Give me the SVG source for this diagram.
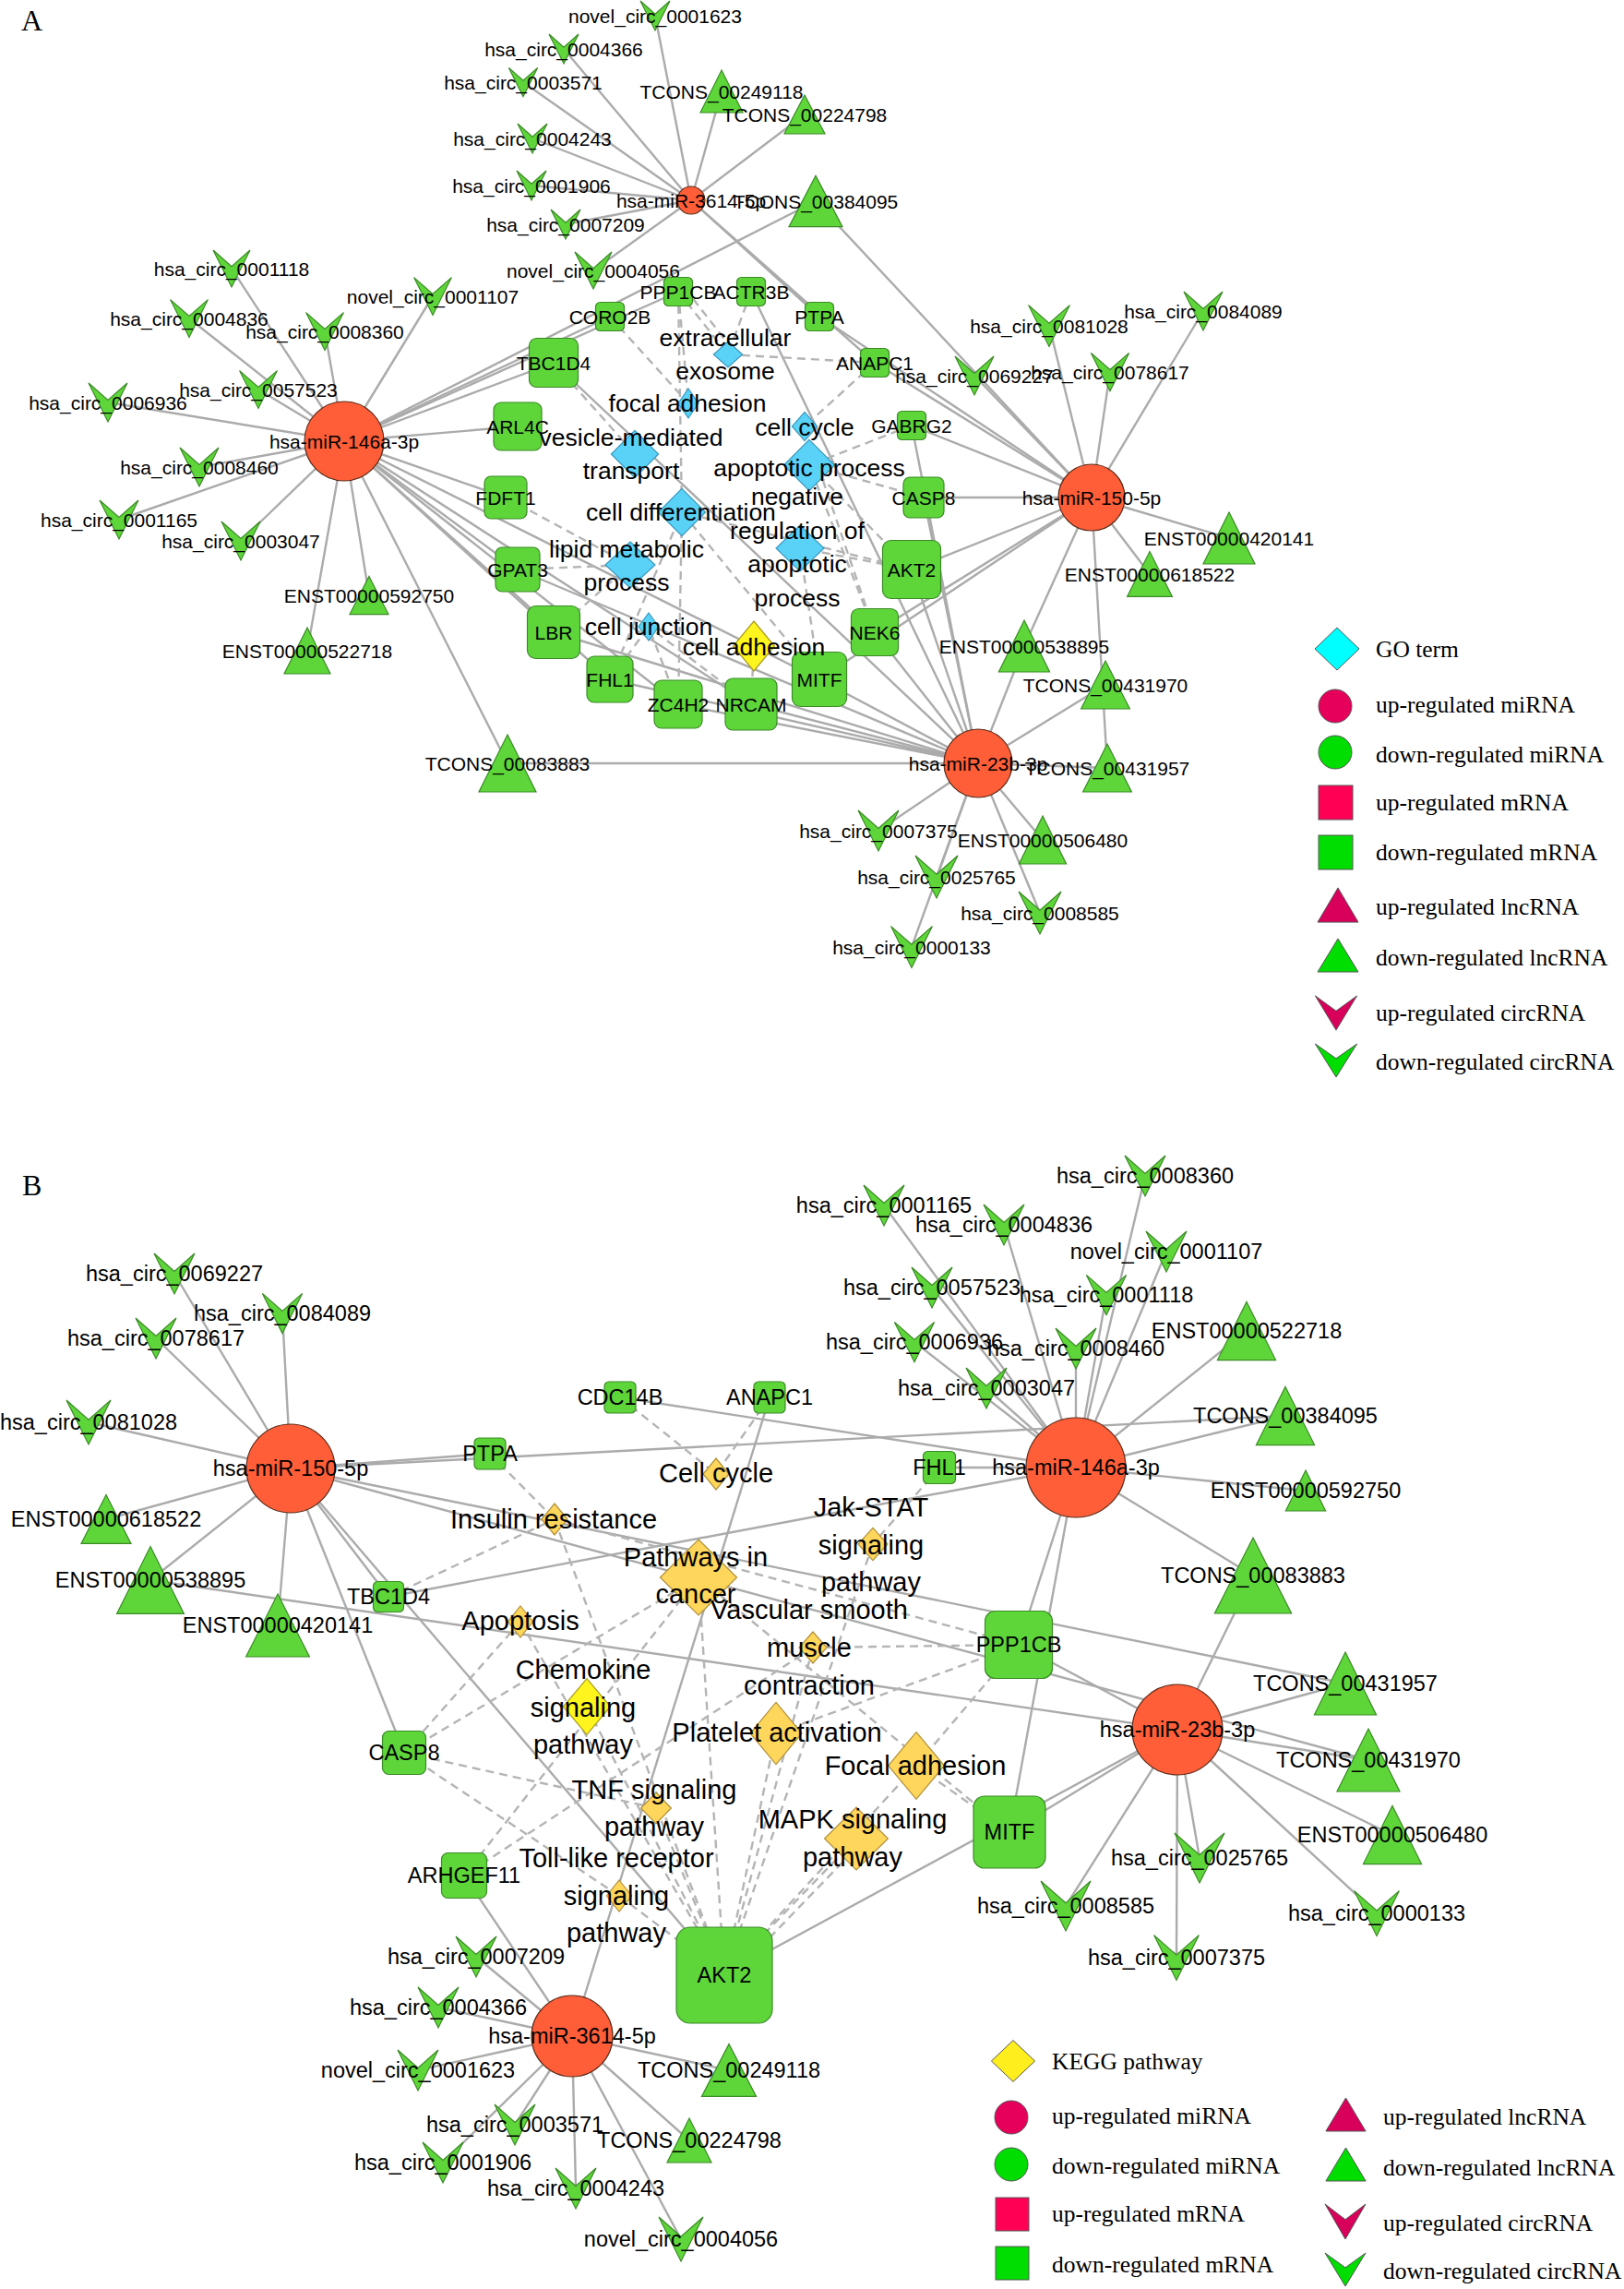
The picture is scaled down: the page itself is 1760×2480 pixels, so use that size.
<svg xmlns="http://www.w3.org/2000/svg" width="1760" height="2480" viewBox="0 0 1760 2480">
<defs>
<style>
.e{stroke:#ababab;stroke-width:2.4;fill:none}
.d{stroke:#b4b4b4;stroke-width:2.4;fill:none;stroke-dasharray:9 6}
.mi{fill:#ff5e38;stroke:#5a2a18;stroke-width:1.2}
.gn{fill:#5ed63a;stroke:#3b8a26;stroke-width:1.2}
.go{fill:#5ad2f8;stroke:#3a98bc;stroke-width:1.2}
.kg{fill:#ffd65c;stroke:#b0903a;stroke-width:1.2}
.ye{fill:#fff51e;stroke:#a89c20;stroke-width:1.2}
.t{font-family:"Liberation Sans",Arial,sans-serif;fill:#000;text-anchor:middle;dominant-baseline:central}
.sa{font-size:21px}
.sb{font-size:23.5px}
.sg{font-size:26.5px}
.sk{font-size:29px}
.lg{font-family:"Liberation Serif","Times New Roman",serif;font-size:25.5px;fill:#000;dominant-baseline:central}
.pl{font-family:"Liberation Serif","Times New Roman",serif;font-size:32px;fill:#000}
.ls{stroke:#555;stroke-width:1}
.up{fill:#e6005c}
.ups{fill:#ff0055}
.upt{fill:#d9005b}
.dn{fill:#00dd00}
</style>
<path id="vee" d="M-20,-20 L0,-2.4 L20,-20 L0,20 Z" vector-effect="non-scaling-stroke"/>
<path id="tri" d="M0,-20 L20,20 L-20,20 Z" vector-effect="non-scaling-stroke"/>
<path id="dia" d="M0,-20 L20,0 L0,20 L-20,0 Z" vector-effect="non-scaling-stroke"/>
</defs>
<rect width="1760" height="2480" fill="#fff"/>
<text class="pl" x="23" y="33">A</text>
<text class="pl" x="24" y="1295">B</text>

<g id="edges-a">
<g class="e">
<line x1="749" y1="217" x2="710" y2="17"/>
<line x1="749" y1="217" x2="611" y2="53"/>
<line x1="749" y1="217" x2="567" y2="89"/>
<line x1="749" y1="217" x2="577" y2="150"/>
<line x1="749" y1="217" x2="576" y2="201"/>
<line x1="749" y1="217" x2="613" y2="243"/>
<line x1="749" y1="217" x2="643" y2="293"/>
<line x1="749" y1="217" x2="782" y2="99"/>
<line x1="749" y1="217" x2="872" y2="124"/>
<line x1="749" y1="217" x2="888" y2="343"/>
<line x1="749" y1="217" x2="948" y2="393"/>
<line x1="373" y1="478" x2="251" y2="291"/>
<line x1="373" y1="478" x2="205" y2="345"/>
<line x1="373" y1="478" x2="352" y2="359"/>
<line x1="373" y1="478" x2="469" y2="321"/>
<line x1="373" y1="478" x2="280" y2="422"/>
<line x1="373" y1="478" x2="117" y2="436"/>
<line x1="373" y1="478" x2="216" y2="506"/>
<line x1="373" y1="478" x2="129" y2="563"/>
<line x1="373" y1="478" x2="261" y2="586"/>
<line x1="373" y1="478" x2="400" y2="645"/>
<line x1="373" y1="478" x2="333" y2="705"/>
<line x1="373" y1="478" x2="550" y2="827"/>
<line x1="373" y1="478" x2="884" y2="218"/>
<line x1="373" y1="478" x2="735" y2="316"/>
<line x1="373" y1="478" x2="661" y2="343"/>
<line x1="373" y1="478" x2="600" y2="393"/>
<line x1="373" y1="478" x2="561" y2="462"/>
<line x1="373" y1="478" x2="548" y2="539"/>
<line x1="373" y1="478" x2="561" y2="617"/>
<line x1="373" y1="478" x2="600" y2="685"/>
<line x1="373" y1="478" x2="661" y2="736"/>
<line x1="373" y1="478" x2="735" y2="763"/>
<line x1="373" y1="478" x2="814" y2="763"/>
<line x1="373" y1="478" x2="888" y2="736"/>
<line x1="1183" y1="539" x2="1137" y2="353"/>
<line x1="1183" y1="539" x2="1304" y2="337"/>
<line x1="1183" y1="539" x2="1203" y2="403"/>
<line x1="1183" y1="539" x2="1056" y2="407"/>
<line x1="1183" y1="539" x2="1332" y2="583"/>
<line x1="1183" y1="539" x2="1246" y2="622"/>
<line x1="1183" y1="539" x2="1110" y2="700"/>
<line x1="1183" y1="539" x2="1200" y2="832"/>
<line x1="1183" y1="539" x2="884" y2="218"/>
<line x1="1183" y1="539" x2="888" y2="343"/>
<line x1="1183" y1="539" x2="948" y2="393"/>
<line x1="1183" y1="539" x2="988" y2="461"/>
<line x1="1183" y1="539" x2="1001" y2="539"/>
<line x1="1183" y1="539" x2="988" y2="617"/>
<line x1="1183" y1="539" x2="948" y2="685"/>
<line x1="1183" y1="539" x2="888" y2="736"/>
<line x1="1060" y1="827" x2="952" y2="900"/>
<line x1="1060" y1="827" x2="1015" y2="950"/>
<line x1="1060" y1="827" x2="988" y2="1026"/>
<line x1="1060" y1="827" x2="1127" y2="989"/>
<line x1="1060" y1="827" x2="1130" y2="910"/>
<line x1="1060" y1="827" x2="1198" y2="742"/>
<line x1="1060" y1="827" x2="1200" y2="832"/>
<line x1="1060" y1="827" x2="1110" y2="700"/>
<line x1="1060" y1="827" x2="550" y2="827"/>
<line x1="1060" y1="827" x2="988" y2="461"/>
<line x1="1060" y1="827" x2="1001" y2="539"/>
<line x1="1060" y1="827" x2="988" y2="617"/>
<line x1="1060" y1="827" x2="948" y2="685"/>
<line x1="1060" y1="827" x2="888" y2="736"/>
<line x1="1060" y1="827" x2="814" y2="763"/>
<line x1="1060" y1="827" x2="735" y2="763"/>
<line x1="1060" y1="827" x2="661" y2="736"/>
<line x1="1060" y1="827" x2="600" y2="685"/>
<line x1="1060" y1="827" x2="561" y2="617"/>
<line x1="1060" y1="827" x2="814" y2="316"/>
<line x1="1060" y1="827" x2="600" y2="393"/>
</g>
<g class="d">
<line x1="735" y1="316" x2="789" y2="384"/>
<line x1="742" y1="312" x2="795" y2="380"/>
<line x1="814" y1="316" x2="789" y2="384"/>
<line x1="789" y1="384" x2="948" y2="393"/>
<line x1="735" y1="316" x2="746" y2="437"/>
<line x1="661" y1="343" x2="746" y2="437"/>
<line x1="735" y1="316" x2="739" y2="555"/>
<line x1="600" y1="393" x2="688" y2="492"/>
<line x1="548" y1="539" x2="683" y2="612"/>
<line x1="561" y1="617" x2="683" y2="612"/>
<line x1="600" y1="685" x2="683" y2="612"/>
<line x1="661" y1="736" x2="703" y2="679"/>
<line x1="661" y1="736" x2="739" y2="555"/>
<line x1="735" y1="763" x2="739" y2="555"/>
<line x1="735" y1="763" x2="703" y2="679"/>
<line x1="814" y1="763" x2="703" y2="679"/>
<line x1="814" y1="763" x2="817" y2="700"/>
<line x1="888" y1="736" x2="739" y2="555"/>
<line x1="888" y1="736" x2="867" y2="594"/>
<line x1="988" y1="617" x2="877" y2="504"/>
<line x1="988" y1="617" x2="867" y2="594"/>
<line x1="988" y1="617" x2="739" y2="555"/>
<line x1="1001" y1="539" x2="877" y2="504"/>
<line x1="948" y1="685" x2="877" y2="504"/>
<line x1="948" y1="685" x2="872" y2="462"/>
<line x1="948" y1="393" x2="872" y2="462"/>
<line x1="988" y1="461" x2="877" y2="504"/>
</g>
</g>

<g id="edges-b">
<g class="e">
<line x1="315" y1="1591" x2="189" y2="1380"/>
<line x1="315" y1="1591" x2="306" y2="1423"/>
<line x1="315" y1="1591" x2="169" y2="1450"/>
<line x1="315" y1="1591" x2="96" y2="1541"/>
<line x1="315" y1="1591" x2="115" y2="1646"/>
<line x1="315" y1="1591" x2="163" y2="1712"/>
<line x1="315" y1="1591" x2="301" y2="1761"/>
<line x1="315" y1="1591" x2="531" y2="1575"/>
<line x1="315" y1="1591" x2="421" y2="1730"/>
<line x1="315" y1="1591" x2="438" y2="1899"/>
<line x1="315" y1="1591" x2="785" y2="2140"/>
<line x1="315" y1="1591" x2="1393" y2="1534"/>
<line x1="315" y1="1591" x2="1458" y2="1824"/>
<line x1="315" y1="1591" x2="1483" y2="1907"/>
<line x1="1166" y1="1590" x2="1241" y2="1274"/>
<line x1="1166" y1="1590" x2="958" y2="1306"/>
<line x1="1166" y1="1590" x2="1088" y2="1327"/>
<line x1="1166" y1="1590" x2="1264" y2="1356"/>
<line x1="1166" y1="1590" x2="1010" y2="1395"/>
<line x1="1166" y1="1590" x2="1199" y2="1403"/>
<line x1="1166" y1="1590" x2="991" y2="1454"/>
<line x1="1166" y1="1590" x2="1166" y2="1461"/>
<line x1="1166" y1="1590" x2="1069" y2="1504"/>
<line x1="1166" y1="1590" x2="1351" y2="1442"/>
<line x1="1166" y1="1590" x2="1393" y2="1534"/>
<line x1="1166" y1="1590" x2="1415" y2="1615"/>
<line x1="1166" y1="1590" x2="1358" y2="1707"/>
<line x1="1166" y1="1590" x2="1018" y2="1590"/>
<line x1="1166" y1="1590" x2="672" y2="1514"/>
<line x1="1166" y1="1590" x2="421" y2="1730"/>
<line x1="1166" y1="1590" x2="1104" y2="1782"/>
<line x1="1166" y1="1590" x2="1094" y2="1985"/>
<line x1="1276" y1="1874" x2="1300" y2="2013"/>
<line x1="1276" y1="1874" x2="1155" y2="2065"/>
<line x1="1276" y1="1874" x2="1275" y2="2121"/>
<line x1="1276" y1="1874" x2="1492" y2="2073"/>
<line x1="1276" y1="1874" x2="1458" y2="1824"/>
<line x1="1276" y1="1874" x2="1483" y2="1907"/>
<line x1="1276" y1="1874" x2="1509" y2="1988"/>
<line x1="1276" y1="1874" x2="1358" y2="1707"/>
<line x1="1276" y1="1874" x2="1104" y2="1782"/>
<line x1="1276" y1="1874" x2="1094" y2="1985"/>
<line x1="1276" y1="1874" x2="785" y2="2140"/>
<line x1="1276" y1="1874" x2="163" y2="1712"/>
<line x1="620" y1="2206" x2="516" y2="2120"/>
<line x1="620" y1="2206" x2="475" y2="2175"/>
<line x1="620" y1="2206" x2="453" y2="2243"/>
<line x1="620" y1="2206" x2="558" y2="2302"/>
<line x1="620" y1="2206" x2="480" y2="2343"/>
<line x1="620" y1="2206" x2="624" y2="2371"/>
<line x1="620" y1="2206" x2="738" y2="2426"/>
<line x1="620" y1="2206" x2="790" y2="2243"/>
<line x1="620" y1="2206" x2="747" y2="2319"/>
<line x1="620" y1="2206" x2="503" y2="2032"/>
<line x1="620" y1="2206" x2="834" y2="1514"/>
</g>
<g class="d">
<line x1="531" y1="1575" x2="601" y2="1646"/>
<line x1="421" y1="1730" x2="601" y2="1646"/>
<line x1="601" y1="1646" x2="785" y2="2140"/>
<line x1="601" y1="1646" x2="1104" y2="1782"/>
<line x1="672" y1="1514" x2="776" y2="1597"/>
<line x1="834" y1="1514" x2="776" y2="1597"/>
<line x1="564" y1="1757" x2="438" y2="1899"/>
<line x1="564" y1="1757" x2="785" y2="2140"/>
<line x1="757" y1="1709" x2="438" y2="1899"/>
<line x1="757" y1="1709" x2="785" y2="2140"/>
<line x1="757" y1="1709" x2="1094" y2="1985"/>
<line x1="757" y1="1709" x2="503" y2="2032"/>
<line x1="636" y1="1849" x2="785" y2="2140"/>
<line x1="711" y1="1959" x2="438" y2="1899"/>
<line x1="711" y1="1959" x2="785" y2="2140"/>
<line x1="671" y1="2054" x2="438" y2="1899"/>
<line x1="671" y1="2054" x2="785" y2="2140"/>
<line x1="946" y1="1673" x2="785" y2="2140"/>
<line x1="1018" y1="1590" x2="946" y2="1673"/>
<line x1="881" y1="1785" x2="1104" y2="1782"/>
<line x1="881" y1="1785" x2="785" y2="2140"/>
<line x1="881" y1="1785" x2="503" y2="2032"/>
<line x1="841" y1="1878" x2="1104" y2="1782"/>
<line x1="841" y1="1878" x2="785" y2="2140"/>
<line x1="993" y1="1913" x2="1104" y2="1782"/>
<line x1="993" y1="1913" x2="785" y2="2140"/>
<line x1="993" y1="1913" x2="1094" y2="1985"/>
<line x1="928" y1="1992" x2="785" y2="2140"/>
<line x1="934" y1="1996" x2="791" y2="2144"/>
</g>
</g>

<g id="nodes-a">
<g id="a-novel_circ_0001623"><use href="#vee" class="gn" transform="translate(710 17) scale(0.8)"/><text class="t sa" x="710" y="17">novel_circ_0001623</text></g>
<g id="a-hsa_circ_0004366"><use href="#vee" class="gn" transform="translate(611 53) scale(0.8)"/><text class="t sa" x="611" y="53">hsa_circ_0004366</text></g>
<g id="a-hsa_circ_0003571"><use href="#vee" class="gn" transform="translate(567 89) scale(0.78)"/><text class="t sa" x="567" y="89">hsa_circ_0003571</text></g>
<g id="a-TCONS_00249118"><use href="#tri" class="gn" transform="translate(782 99) scale(1.15)"/><text class="t sa" x="782" y="99">TCONS_00249118</text></g>
<g id="a-TCONS_00224798"><use href="#tri" class="gn" transform="translate(872 124) scale(1.1 1.05)"/><text class="t sa" x="872" y="124">TCONS_00224798</text></g>
<g id="a-hsa_circ_0004243"><use href="#vee" class="gn" transform="translate(577 150) scale(0.8)"/><text class="t sa" x="577" y="150">hsa_circ_0004243</text></g>
<g id="a-hsa_circ_0001906"><use href="#vee" class="gn" transform="translate(576 201) scale(0.8)"/><text class="t sa" x="576" y="201">hsa_circ_0001906</text></g>
<g id="a-hsa-miR-3614-5p"><circle class="mi" cx="749" cy="217" r="15"/><text class="t sa" x="749" y="217">hsa-miR-3614-5p</text></g>
<g id="a-TCONS_00384095"><use href="#tri" class="gn" transform="translate(884 218) scale(1.45 1.38)"/><text class="t sa" x="884" y="218">TCONS_00384095</text></g>
<g id="a-hsa_circ_0007209"><use href="#vee" class="gn" transform="translate(613 243) scale(0.8)"/><text class="t sa" x="613" y="243">hsa_circ_0007209</text></g>
<g id="a-novel_circ_0004056"><use href="#vee" class="gn" transform="translate(643 293) scale(1)"/><text class="t sa" x="643" y="293">novel_circ_0004056</text></g>
<g id="a-hsa_circ_0001118"><use href="#vee" class="gn" transform="translate(251 291) scale(1)"/><text class="t sa" x="251" y="291">hsa_circ_0001118</text></g>
<g id="a-novel_circ_0001107"><use href="#vee" class="gn" transform="translate(469 321) scale(1.02)"/><text class="t sa" x="469" y="321">novel_circ_0001107</text></g>
<g id="a-hsa_circ_0004836"><use href="#vee" class="gn" transform="translate(205 345) scale(1.02)"/><text class="t sa" x="205" y="345">hsa_circ_0004836</text></g>
<g id="a-hsa_circ_0008360"><use href="#vee" class="gn" transform="translate(352 359) scale(1.02)"/><text class="t sa" x="352" y="359">hsa_circ_0008360</text></g>
<g id="a-hsa_circ_0057523"><use href="#vee" class="gn" transform="translate(280 422) scale(1.02)"/><text class="t sa" x="280" y="422">hsa_circ_0057523</text></g>
<g id="a-hsa_circ_0006936"><use href="#vee" class="gn" transform="translate(117 436) scale(1.05)"/><text class="t sa" x="117" y="436">hsa_circ_0006936</text></g>
<g id="a-hsa-miR-146a-3p"><circle class="mi" cx="373" cy="478" r="43"/><text class="t sa" x="373" y="478">hsa-miR-146a-3p</text></g>
<g id="a-hsa_circ_0008460"><use href="#vee" class="gn" transform="translate(216 506) scale(1.05)"/><text class="t sa" x="216" y="506">hsa_circ_0008460</text></g>
<g id="a-hsa_circ_0001165"><use href="#vee" class="gn" transform="translate(129 563) scale(1.05)"/><text class="t sa" x="129" y="563">hsa_circ_0001165</text></g>
<g id="a-hsa_circ_0003047"><use href="#vee" class="gn" transform="translate(261 586) scale(1.05)"/><text class="t sa" x="261" y="586">hsa_circ_0003047</text></g>
<g id="a-ENST00000592750"><use href="#tri" class="gn" transform="translate(400 645) scale(1.05 1.03)"/><text class="t sa" x="400" y="645">ENST00000592750</text></g>
<g id="a-ENST00000522718"><use href="#tri" class="gn" transform="translate(333 705) scale(1.25)"/><text class="t sa" x="333" y="705">ENST00000522718</text></g>
<g id="a-TCONS_00083883"><use href="#tri" class="gn" transform="translate(550 827) scale(1.55)"/><text class="t sa" x="550" y="827">TCONS_00083883</text></g>
<g id="a-hsa_circ_0081028"><use href="#vee" class="gn" transform="translate(1137 353) scale(1.12)"/><text class="t sa" x="1137" y="353">hsa_circ_0081028</text></g>
<g id="a-hsa_circ_0084089"><use href="#vee" class="gn" transform="translate(1304 337) scale(1.05)"/><text class="t sa" x="1304" y="337">hsa_circ_0084089</text></g>
<g id="a-hsa_circ_0078617"><use href="#vee" class="gn" transform="translate(1203 403) scale(1.03)"/><text class="t sa" x="1203" y="403">hsa_circ_0078617</text></g>
<g id="a-hsa_circ_0069227"><use href="#vee" class="gn" transform="translate(1056 407) scale(1.05)"/><text class="t sa" x="1056" y="407">hsa_circ_0069227</text></g>
<g id="a-hsa-miR-150-5p"><circle class="mi" cx="1183" cy="539" r="36"/><text class="t sa" x="1183" y="539">hsa-miR-150-5p</text></g>
<g id="a-ENST00000420141"><use href="#tri" class="gn" transform="translate(1332 583) scale(1.4)"/><text class="t sa" x="1332" y="583">ENST00000420141</text></g>
<g id="a-ENST00000618522"><use href="#tri" class="gn" transform="translate(1246 622) scale(1.22)"/><text class="t sa" x="1246" y="622">ENST00000618522</text></g>
<g id="a-ENST00000538895"><use href="#tri" class="gn" transform="translate(1110 700) scale(1.38 1.4)"/><text class="t sa" x="1110" y="700">ENST00000538895</text></g>
<g id="a-TCONS_00431970"><use href="#tri" class="gn" transform="translate(1198 742) scale(1.32 1.3)"/><text class="t sa" x="1198" y="742">TCONS_00431970</text></g>
<g id="a-hsa-miR-23b-3p"><circle class="mi" cx="1060" cy="827" r="37"/><text class="t sa" x="1060" y="827">hsa-miR-23b-3p</text></g>
<g id="a-TCONS_00431957"><use href="#tri" class="gn" transform="translate(1200 832) scale(1.32 1.3)"/><text class="t sa" x="1200" y="832">TCONS_00431957</text></g>
<g id="a-hsa_circ_0007375"><use href="#vee" class="gn" transform="translate(952 900) scale(1.1)"/><text class="t sa" x="952" y="900">hsa_circ_0007375</text></g>
<g id="a-ENST00000506480"><use href="#tri" class="gn" transform="translate(1130 910) scale(1.28 1.3)"/><text class="t sa" x="1130" y="910">ENST00000506480</text></g>
<g id="a-hsa_circ_0025765"><use href="#vee" class="gn" transform="translate(1015 950) scale(1.15)"/><text class="t sa" x="1015" y="950">hsa_circ_0025765</text></g>
<g id="a-hsa_circ_0008585"><use href="#vee" class="gn" transform="translate(1127 989) scale(1.15)"/><text class="t sa" x="1127" y="989">hsa_circ_0008585</text></g>
<g id="a-hsa_circ_0000133"><use href="#vee" class="gn" transform="translate(988 1026) scale(1.12)"/><text class="t sa" x="988" y="1026">hsa_circ_0000133</text></g>

<g id="a-PPP1CB"><rect class="gn" x="719.5" y="300.5" width="31" height="31" rx="5"/><text class="t sa" x="735" y="316">PPP1CB</text></g>
<g id="a-ACTR3B"><rect class="gn" x="798.5" y="300.5" width="31" height="31" rx="5"/><text class="t sa" x="814" y="316">ACTR3B</text></g>
<g id="a-CORO2B"><rect class="gn" x="645.5" y="327.5" width="31" height="31" rx="5"/><text class="t sa" x="661" y="343">CORO2B</text></g>
<g id="a-PTPA"><rect class="gn" x="872.5" y="327.5" width="31" height="31" rx="5"/><text class="t sa" x="888" y="343">PTPA</text></g>
<g id="a-TBC1D4"><rect class="gn" x="573.5" y="366.5" width="53" height="53" rx="8"/><text class="t sa" x="600" y="393">TBC1D4</text></g>
<g id="a-ANAPC1"><rect class="gn" x="932.5" y="377.5" width="31" height="31" rx="5"/><text class="t sa" x="948" y="393">ANAPC1</text></g>
<g id="a-ARL4C"><rect class="gn" x="535" y="436" width="52" height="52" rx="8"/><text class="t sa" x="561" y="462">ARL4C</text></g>
<g id="a-GABRG2"><rect class="gn" x="972.5" y="445.5" width="31" height="31" rx="5"/><text class="t sa" x="988" y="461">GABRG2</text></g>
<g id="a-FDFT1"><rect class="gn" x="525" y="516" width="46" height="46" rx="7"/><text class="t sa" x="548" y="539">FDFT1</text></g>
<g id="a-CASP8"><rect class="gn" x="979" y="517" width="44" height="44" rx="7"/><text class="t sa" x="1001" y="539">CASP8</text></g>
<g id="a-GPAT3"><rect class="gn" x="537" y="593" width="48" height="48" rx="7"/><text class="t sa" x="561" y="617">GPAT3</text></g>
<g id="a-AKT2"><rect class="gn" x="956.5" y="585.5" width="63" height="63" rx="9"/><text class="t sa" x="988" y="617">AKT2</text></g>
<g id="a-LBR"><rect class="gn" x="571.5" y="656.5" width="57" height="57" rx="9"/><text class="t sa" x="600" y="685">LBR</text></g>
<g id="a-NEK6"><rect class="gn" x="922.5" y="659.5" width="51" height="51" rx="8"/><text class="t sa" x="948" y="685">NEK6</text></g>
<g id="a-FHL1"><rect class="gn" x="636" y="711" width="50" height="50" rx="8"/><text class="t sa" x="661" y="736">FHL1</text></g>
<g id="a-MITF"><rect class="gn" x="858.5" y="706.5" width="59" height="59" rx="9"/><text class="t sa" x="888" y="736">MITF</text></g>
<g id="a-ZC4H2"><rect class="gn" x="709" y="737" width="52" height="52" rx="8"/><text class="t sa" x="735" y="763">ZC4H2</text></g>
<g id="a-NRCAM"><rect class="gn" x="786" y="735" width="56" height="56" rx="8"/><text class="t sa" x="814" y="763">NRCAM</text></g>

<g id="a-go-extracellular-exosome"><use href="#dia" class="go" transform="translate(789 384) scale(0.78 0.7)"/><text class="t sg" x="786" y="366">extracellular</text><text class="t sg" x="786" y="402">exosome</text></g>
<g id="a-go-focal-adhesion"><use href="#dia" class="go" transform="translate(746 437) scale(0.55 0.8)"/><text class="t sg" x="745" y="437">focal adhesion</text></g>
<g id="a-go-cell-cycle"><use href="#dia" class="go" transform="translate(872 462) scale(0.68 0.78)"/><text class="t sg" x="872" y="463">cell cycle</text></g>
<g id="a-go-vesicle"><use href="#dia" class="go" transform="translate(688 492) scale(1.28)"/><text class="t sg" x="684" y="474">vesicle-mediated</text><text class="t sg" x="684" y="510">transport</text></g>
<g id="a-go-apoptotic"><use href="#dia" class="go" transform="translate(877 504) scale(1.38)"/><text class="t sg" x="877" y="507">apoptotic process</text></g>
<g id="a-go-negreg"><use href="#dia" class="go" transform="translate(867 594) scale(1.3 1.25)"/><text class="t sg" x="864" y="538">negative</text><text class="t sg" x="864" y="575">regulation of</text><text class="t sg" x="864" y="611">apoptotic</text><text class="t sg" x="864" y="648">process</text></g>
<g id="a-go-cell-differentiation"><use href="#dia" class="go" transform="translate(739 555) scale(1.28)"/><text class="t sg" x="738" y="555">cell differentiation</text></g>
<g id="a-go-lipid"><use href="#dia" class="go" transform="translate(683 612) scale(1.35 1.25)"/><text class="t sg" x="679" y="595">lipid metabolic</text><text class="t sg" x="679" y="631">process</text></g>
<g id="a-go-cell-junction"><use href="#dia" class="go" transform="translate(703 679) scale(0.55 0.75)"/><text class="t sg" x="703" y="679">cell junction</text></g>
<g id="a-go-cell-adhesion"><use href="#dia" class="ye" transform="translate(817 700) scale(1.12 1.35)"/><text class="t sg" x="817" y="701">cell adhesion</text></g>
</g>

<g id="legend-a">
<use href="#dia" class="ls" fill="#00ffff" transform="translate(1449 703) scale(1.2 1.15)"/>
<text class="lg" x="1491" y="703">GO term</text>
<circle class="ls up" cx="1447" cy="765" r="18"/>
<text class="lg" x="1491" y="763">up-regulated miRNA</text>
<circle class="ls dn" cx="1447" cy="815" r="18"/>
<text class="lg" x="1491" y="817">down-regulated miRNA</text>
<rect class="ls ups" x="1429" y="851" width="37" height="37"/>
<text class="lg" x="1491" y="869">up-regulated mRNA</text>
<rect class="ls dn" x="1429" y="905" width="37" height="37"/>
<text class="lg" x="1491" y="923">down-regulated mRNA</text>
<use href="#tri" class="ls upt" transform="translate(1450 980.5) scale(1.1 0.93)"/>
<text class="lg" x="1491" y="982">up-regulated lncRNA</text>
<use href="#tri" class="ls dn" transform="translate(1450 1035) scale(1.1 0.9)"/>
<text class="lg" x="1491" y="1037">down-regulated lncRNA</text>
<use href="#vee" class="ls upt" transform="translate(1448 1097.5) scale(1.13 0.93)"/>
<text class="lg" x="1491" y="1097">up-regulated circRNA</text>
<use href="#vee" class="ls dn" transform="translate(1448 1149) scale(1.13 0.9)"/>
<text class="lg" x="1491" y="1150">down-regulated circRNA</text>
</g>

<g id="nodes-b">
<g id="b-hsa_circ_0069227"><use href="#vee" class="gn" transform="translate(189 1380) scale(1.1)"/><text class="t sb" x="189" y="1380">hsa_circ_0069227</text></g>
<g id="b-hsa_circ_0084089"><use href="#vee" class="gn" transform="translate(306 1423) scale(1.08)"/><text class="t sb" x="306" y="1423">hsa_circ_0084089</text></g>
<g id="b-hsa_circ_0078617"><use href="#vee" class="gn" transform="translate(169 1450) scale(1.1)"/><text class="t sb" x="169" y="1450">hsa_circ_0078617</text></g>
<g id="b-hsa_circ_0081028"><use href="#vee" class="gn" transform="translate(96 1541) scale(1.2)"/><text class="t sb" x="96" y="1541">hsa_circ_0081028</text></g>
<g id="b-hsa-miR-150-5p"><circle class="mi" cx="315" cy="1591" r="48"/><text class="t sb" x="315" y="1591">hsa-miR-150-5p</text></g>
<g id="b-ENST00000618522"><use href="#tri" class="gn" transform="translate(115 1646) scale(1.35 1.32)"/><text class="t sb" x="115" y="1646">ENST00000618522</text></g>
<g id="b-ENST00000538895"><use href="#tri" class="gn" transform="translate(163 1712) scale(1.82)"/><text class="t sb" x="163" y="1712">ENST00000538895</text></g>
<g id="b-ENST00000420141"><use href="#tri" class="gn" transform="translate(301 1761) scale(1.72 1.7)"/><text class="t sb" x="301" y="1761">ENST00000420141</text></g>
<g id="b-hsa_circ_0008360"><use href="#vee" class="gn" transform="translate(1241 1274) scale(1.1)"/><text class="t sb" x="1241" y="1274">hsa_circ_0008360</text></g>
<g id="b-hsa_circ_0001165"><use href="#vee" class="gn" transform="translate(958 1306) scale(1.1)"/><text class="t sb" x="958" y="1306">hsa_circ_0001165</text></g>
<g id="b-hsa_circ_0004836"><use href="#vee" class="gn" transform="translate(1088 1327) scale(1.1)"/><text class="t sb" x="1088" y="1327">hsa_circ_0004836</text></g>
<g id="b-novel_circ_0001107"><use href="#vee" class="gn" transform="translate(1264 1356) scale(1.1)"/><text class="t sb" x="1264" y="1356">novel_circ_0001107</text></g>
<g id="b-hsa_circ_0057523"><use href="#vee" class="gn" transform="translate(1010 1395) scale(1.1)"/><text class="t sb" x="1010" y="1395">hsa_circ_0057523</text></g>
<g id="b-hsa_circ_0001118"><use href="#vee" class="gn" transform="translate(1199 1403) scale(1.08)"/><text class="t sb" x="1199" y="1403">hsa_circ_0001118</text></g>
<g id="b-ENST00000522718"><use href="#tri" class="gn" transform="translate(1351 1442) scale(1.58)"/><text class="t sb" x="1351" y="1442">ENST00000522718</text></g>
<g id="b-hsa_circ_0006936"><use href="#vee" class="gn" transform="translate(991 1454) scale(1.08)"/><text class="t sb" x="991" y="1454">hsa_circ_0006936</text></g>
<g id="b-hsa_circ_0008460"><use href="#vee" class="gn" transform="translate(1166 1461) scale(1.1)"/><text class="t sb" x="1166" y="1461">hsa_circ_0008460</text></g>
<g id="b-hsa_circ_0003047"><use href="#vee" class="gn" transform="translate(1069 1504) scale(1.1)"/><text class="t sb" x="1069" y="1504">hsa_circ_0003047</text></g>
<g id="b-TCONS_00384095"><use href="#tri" class="gn" transform="translate(1393 1534) scale(1.58)"/><text class="t sb" x="1393" y="1534">TCONS_00384095</text></g>
<g id="b-hsa-miR-146a-3p"><circle class="mi" cx="1166" cy="1590" r="54"/><text class="t sb" x="1166" y="1590">hsa-miR-146a-3p</text></g>
<g id="b-ENST00000592750"><use href="#tri" class="gn" transform="translate(1415 1615) scale(1.08 1.1)"/><text class="t sb" x="1415" y="1615">ENST00000592750</text></g>
<g id="b-TCONS_00083883"><use href="#tri" class="gn" transform="translate(1358 1707) scale(2.08 2.05)"/><text class="t sb" x="1358" y="1707">TCONS_00083883</text></g>
<g id="b-TCONS_00431957"><use href="#tri" class="gn" transform="translate(1458 1824) scale(1.68 1.7)"/><text class="t sb" x="1458" y="1824">TCONS_00431957</text></g>
<g id="b-hsa-miR-23b-3p"><circle class="mi" cx="1276" cy="1874" r="49"/><text class="t sb" x="1276" y="1874">hsa-miR-23b-3p</text></g>
<g id="b-TCONS_00431970"><use href="#tri" class="gn" transform="translate(1483 1907) scale(1.7)"/><text class="t sb" x="1483" y="1907">TCONS_00431970</text></g>
<g id="b-ENST00000506480"><use href="#tri" class="gn" transform="translate(1509 1988) scale(1.58)"/><text class="t sb" x="1509" y="1988">ENST00000506480</text></g>
<g id="b-hsa_circ_0025765"><use href="#vee" class="gn" transform="translate(1300 2013) scale(1.35)"/><text class="t sb" x="1300" y="2013">hsa_circ_0025765</text></g>
<g id="b-hsa_circ_0008585"><use href="#vee" class="gn" transform="translate(1155 2065) scale(1.35)"/><text class="t sb" x="1155" y="2065">hsa_circ_0008585</text></g>
<g id="b-hsa_circ_0000133"><use href="#vee" class="gn" transform="translate(1492 2073) scale(1.22)"/><text class="t sb" x="1492" y="2073">hsa_circ_0000133</text></g>
<g id="b-hsa_circ_0007375"><use href="#vee" class="gn" transform="translate(1275 2121) scale(1.22)"/><text class="t sb" x="1275" y="2121">hsa_circ_0007375</text></g>
<g id="b-hsa_circ_0007209"><use href="#vee" class="gn" transform="translate(516 2120) scale(1.1)"/><text class="t sb" x="516" y="2120">hsa_circ_0007209</text></g>
<g id="b-hsa_circ_0004366"><use href="#vee" class="gn" transform="translate(475 2175) scale(1.1)"/><text class="t sb" x="475" y="2175">hsa_circ_0004366</text></g>
<g id="b-hsa-miR-3614-5p"><circle class="mi" cx="620" cy="2206" r="44"/><text class="t sb" x="620" y="2206">hsa-miR-3614-5p</text></g>
<g id="b-novel_circ_0001623"><use href="#vee" class="gn" transform="translate(453 2243) scale(1.1)"/><text class="t sb" x="453" y="2243">novel_circ_0001623</text></g>
<g id="b-TCONS_00249118"><use href="#tri" class="gn" transform="translate(790 2243) scale(1.48 1.42)"/><text class="t sb" x="790" y="2243">TCONS_00249118</text></g>
<g id="b-hsa_circ_0003571"><use href="#vee" class="gn" transform="translate(558 2302) scale(1.1)"/><text class="t sb" x="558" y="2302">hsa_circ_0003571</text></g>
<g id="b-TCONS_00224798"><use href="#tri" class="gn" transform="translate(747 2319) scale(1.2)"/><text class="t sb" x="747" y="2319">TCONS_00224798</text></g>
<g id="b-hsa_circ_0001906"><use href="#vee" class="gn" transform="translate(480 2343) scale(1.1)"/><text class="t sb" x="480" y="2343">hsa_circ_0001906</text></g>
<g id="b-hsa_circ_0004243"><use href="#vee" class="gn" transform="translate(624 2371) scale(1.1)"/><text class="t sb" x="624" y="2371">hsa_circ_0004243</text></g>
<g id="b-novel_circ_0004056"><use href="#vee" class="gn" transform="translate(738 2426) scale(1.2)"/><text class="t sb" x="738" y="2426">novel_circ_0004056</text></g>

<g id="b-PTPA"><rect class="gn" x="514" y="1558" width="34" height="34" rx="5"/><text class="t sb" x="531" y="1575">PTPA</text></g>
<g id="b-CDC14B"><rect class="gn" x="655" y="1497" width="34" height="34" rx="5"/><text class="t sb" x="672" y="1514">CDC14B</text></g>
<g id="b-ANAPC1"><rect class="gn" x="817" y="1497" width="34" height="34" rx="5"/><text class="t sb" x="834" y="1514">ANAPC1</text></g>
<g id="b-TBC1D4"><rect class="gn" x="404.5" y="1713.5" width="33" height="33" rx="5"/><text class="t sb" x="421" y="1730">TBC1D4</text></g>
<g id="b-FHL1"><rect class="gn" x="1000.5" y="1572.5" width="35" height="35" rx="5"/><text class="t sb" x="1018" y="1590">FHL1</text></g>
<g id="b-PPP1CB"><rect class="gn" x="1067.5" y="1745.5" width="73" height="73" rx="11"/><text class="t sb" x="1104" y="1782">PPP1CB</text></g>
<g id="b-CASP8"><rect class="gn" x="414.5" y="1875.5" width="47" height="47" rx="7"/><text class="t sb" x="438" y="1899">CASP8</text></g>
<g id="b-MITF"><rect class="gn" x="1055" y="1946" width="78" height="78" rx="12"/><text class="t sb" x="1094" y="1985">MITF</text></g>
<g id="b-ARHGEF11"><rect class="gn" x="478.5" y="2007.5" width="49" height="49" rx="7"/><text class="t sb" x="503" y="2032">ARHGEF11</text></g>
<g id="b-AKT2"><rect class="gn" x="733" y="2088" width="104" height="104" rx="15"/><text class="t sb" x="785" y="2140">AKT2</text></g>

<g id="b-kegg-cell-cycle"><use href="#dia" class="kg" transform="translate(776 1597) scale(0.7 0.85)"/><text class="t sk" x="776" y="1596">Cell cycle</text></g>
<g id="b-kegg-insulin"><use href="#dia" class="kg" transform="translate(601 1646) scale(0.7 0.85)"/><text class="t sk" x="600" y="1646">Insulin resistance</text></g>
<g id="b-kegg-jak-stat"><use href="#dia" class="kg" transform="translate(946 1673) scale(0.8 0.88)"/><text class="t sk" x="944" y="1633">Jak-STAT</text><text class="t sk" x="944" y="1674">signaling</text><text class="t sk" x="944" y="1714">pathway</text></g>
<g id="b-kegg-pathways-in-cancer"><use href="#dia" class="kg" transform="translate(757 1709) scale(2.08 2.05)"/><text class="t sk" x="754" y="1687">Pathways in</text><text class="t sk" x="754" y="1727">cancer</text></g>
<g id="b-kegg-apoptosis"><use href="#dia" class="kg" transform="translate(564 1757) scale(0.68 0.85)"/><text class="t sk" x="564" y="1756">Apoptosis</text></g>
<g id="b-kegg-vsm"><use href="#dia" class="kg" transform="translate(881 1785) scale(0.75 0.85)"/><text class="t sk" x="877" y="1744">Vascular smooth</text><text class="t sk" x="877" y="1785">muscle</text><text class="t sk" x="877" y="1826">contraction</text></g>
<g id="b-kegg-chemokine"><use href="#dia" class="ye" transform="translate(636 1849) scale(1.28 1.52)"/><text class="t sk" x="632" y="1809">Chemokine</text><text class="t sk" x="632" y="1850">signaling</text><text class="t sk" x="632" y="1890">pathway</text></g>
<g id="b-kegg-platelet"><use href="#dia" class="kg" transform="translate(841 1878) scale(1.4 1.68)"/><text class="t sk" x="842" y="1877">Platelet activation</text></g>
<g id="b-kegg-focal-adhesion"><use href="#dia" class="kg" transform="translate(993 1913) scale(1.52 1.82)"/><text class="t sk" x="992" y="1913">Focal adhesion</text></g>
<g id="b-kegg-tnf"><use href="#dia" class="kg" transform="translate(711 1959) scale(0.82 0.85)"/><text class="t sk" x="709" y="1939">TNF signaling</text><text class="t sk" x="709" y="1979">pathway</text></g>
<g id="b-kegg-mapk"><use href="#dia" class="kg" transform="translate(928 1992) scale(1.72 1.7)"/><text class="t sk" x="924" y="1971">MAPK signaling</text><text class="t sk" x="924" y="2012">pathway</text></g>
<g id="b-kegg-toll"><use href="#dia" class="kg" transform="translate(671 2054) scale(0.68 0.85)"/><text class="t sk" x="668" y="2013">Toll-like receptor</text><text class="t sk" x="668" y="2054">signaling</text><text class="t sk" x="668" y="2094">pathway</text></g>
</g>

<g id="legend-b">
<use href="#dia" class="ls" fill="#ffee1e" transform="translate(1098 2233) scale(1.18 1.12)"/>
<text class="lg" x="1140" y="2233">KEGG pathway</text>
<circle class="ls up" cx="1096" cy="2294" r="18"/>
<text class="lg" x="1140" y="2292">up-regulated miRNA</text>
<circle class="ls dn" cx="1096" cy="2345" r="18"/>
<text class="lg" x="1140" y="2346">down-regulated miRNA</text>
<rect class="ls ups" x="1079" y="2381" width="36" height="36"/>
<text class="lg" x="1140" y="2398">up-regulated mRNA</text>
<rect class="ls dn" x="1079" y="2434" width="36" height="36"/>
<text class="lg" x="1140" y="2453">down-regulated mRNA</text>
<use href="#tri" class="ls upt" transform="translate(1458.5 2291) scale(1.08 0.9)"/>
<text class="lg" x="1499" y="2293">up-regulated lncRNA</text>
<use href="#tri" class="ls dn" transform="translate(1458.5 2345) scale(1.08 0.9)"/>
<text class="lg" x="1499" y="2348">down-regulated lncRNA</text>
<use href="#vee" class="ls upt" transform="translate(1458 2407) scale(1.1 0.95)"/>
<text class="lg" x="1499" y="2408">up-regulated circRNA</text>
<use href="#vee" class="ls dn" transform="translate(1458 2459) scale(1.1 0.9)"/>
<text class="lg" x="1499" y="2460">down-regulated circRNA</text>
</g>
</svg>
